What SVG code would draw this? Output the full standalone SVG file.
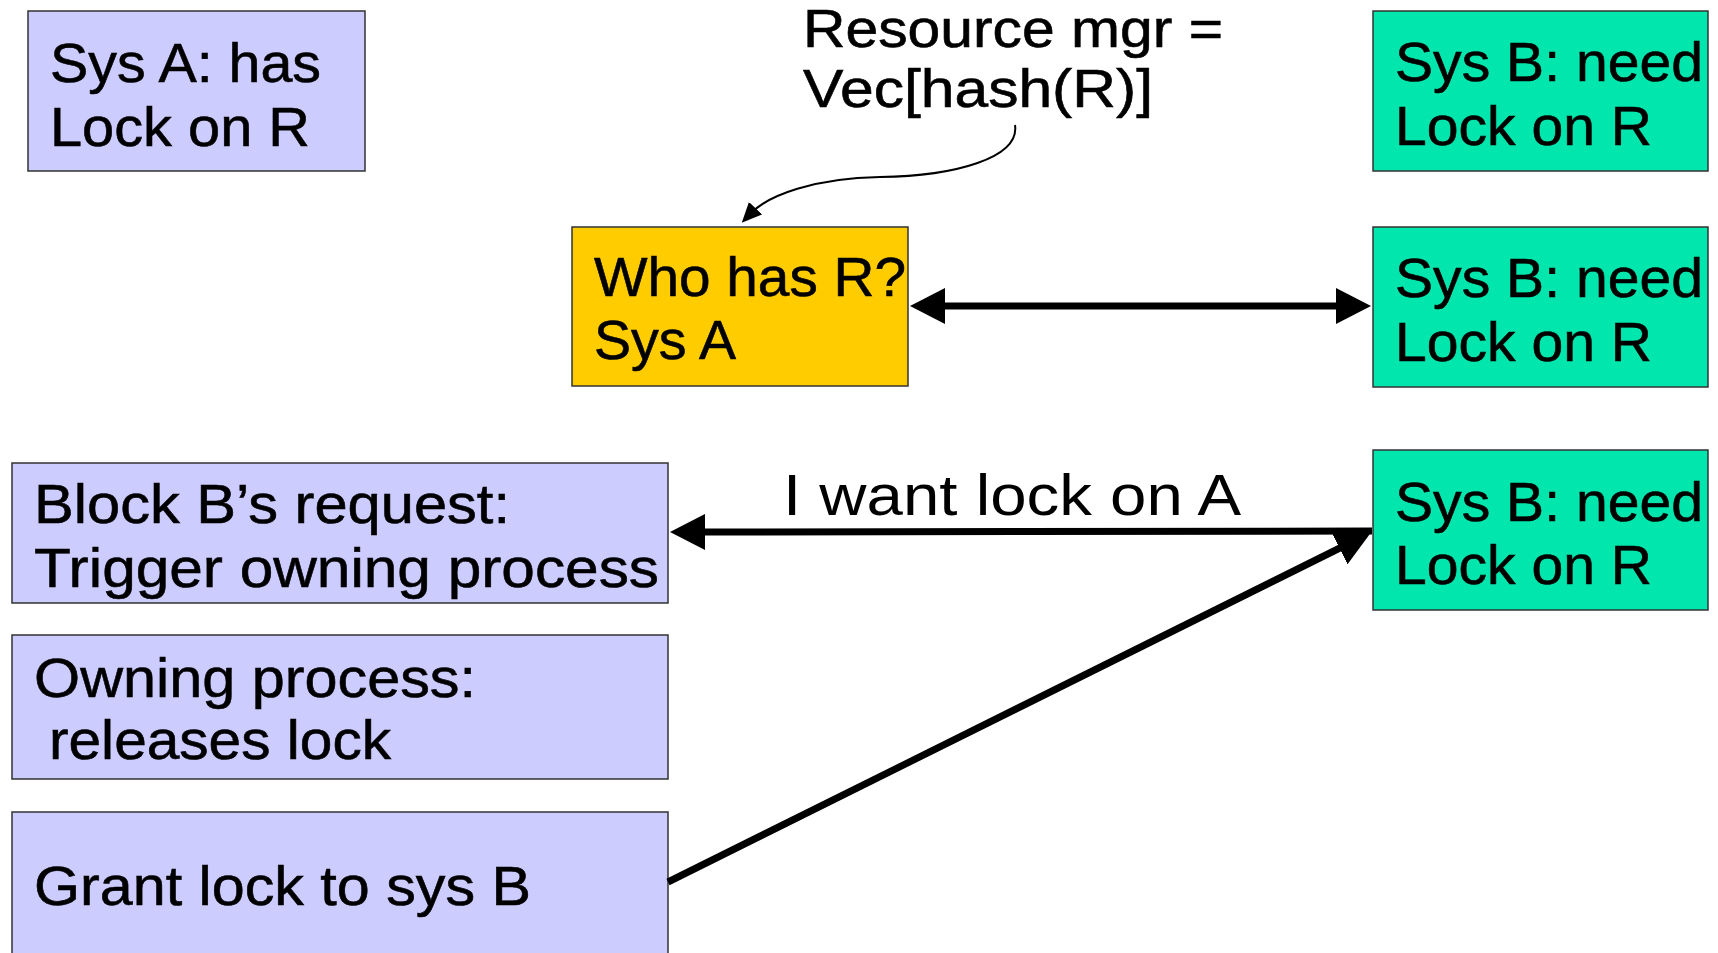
<svg xmlns="http://www.w3.org/2000/svg" width="1718" height="953" viewBox="0 0 1718 953">
  <style>
    .box { stroke: #333333; stroke-width: 1.5; }
    .lav { fill: #ccccff; }
    .grn { fill: #00e6ac; }
    .yel { fill: #ffcc00; }
    text { font-family: "Liberation Sans", Arial, sans-serif; font-size: 56px; fill: #000000; stroke: #000000; stroke-width: 0.6; }
    .lbl { font-size: 58px; stroke-width: 0; }
    .note { font-size: 53px; }
    .thick { stroke: #000000; stroke-width: 7; fill: none; }
    .thin { stroke: #000000; stroke-width: 2; fill: none; }
  </style>
  <defs>
    <marker id="bigHead" markerUnits="userSpaceOnUse" viewBox="0 0 35 36" markerWidth="35" markerHeight="36" refX="14" refY="18" orient="auto-start-reverse">
      <path d="M0,0 L35,18 L0,36 z" fill="#000000"/>
    </marker>
    <marker id="smallHead" markerUnits="userSpaceOnUse" viewBox="0 0 20 18" markerWidth="20" markerHeight="18" refX="8" refY="9" orient="auto">
      <path d="M0,0 L20,9 L0,18 z" fill="#000000"/>
    </marker>
  </defs>

  <rect width="1718" height="953" fill="#ffffff"/>

  <g id="sysA">
    <rect class="box lav" x="28" y="11" width="337" height="160"/>
    <text x="50" y="82" textLength="271" lengthAdjust="spacingAndGlyphs">Sys A: has</text>
    <text x="50" y="146" textLength="260" lengthAdjust="spacingAndGlyphs">Lock on R</text>
  </g>

  <g id="resourceMgr">
    <text class="note" x="803" y="47" textLength="420" lengthAdjust="spacingAndGlyphs">Resource mgr =</text>
    <text class="note" x="803" y="107" textLength="350" lengthAdjust="spacingAndGlyphs">Vec[hash(R)]</text>
  </g>

  <g id="lookup">
    <rect class="box yel" x="572" y="227" width="336" height="159"/>
    <text x="594" y="296" textLength="312" lengthAdjust="spacingAndGlyphs">Who has R?</text>
    <text x="594" y="359" textLength="142" lengthAdjust="spacingAndGlyphs">Sys A</text>
  </g>

  <g id="sysB1">
    <rect class="box grn" x="1373" y="11" width="335" height="160"/>
    <text x="1395" y="81" textLength="308" lengthAdjust="spacingAndGlyphs">Sys B: need</text>
    <text x="1395" y="145" textLength="257" lengthAdjust="spacingAndGlyphs">Lock on R</text>
  </g>

  <g id="sysB2">
    <rect class="box grn" x="1373" y="227" width="335" height="160"/>
    <text x="1395" y="297" textLength="308" lengthAdjust="spacingAndGlyphs">Sys B: need</text>
    <text x="1395" y="361" textLength="257" lengthAdjust="spacingAndGlyphs">Lock on R</text>
  </g>

  <g id="sysB3">
    <rect class="box grn" x="1373" y="450" width="335" height="160"/>
    <text x="1395" y="521" textLength="308" lengthAdjust="spacingAndGlyphs">Sys B: need</text>
    <text x="1395" y="584" textLength="257" lengthAdjust="spacingAndGlyphs">Lock on R</text>
  </g>

  <g id="blockRequest">
    <rect class="box lav" x="12" y="463" width="656" height="140"/>
    <text x="34" y="523" textLength="476" lengthAdjust="spacingAndGlyphs">Block B’s request:</text>
    <text x="34" y="587" textLength="625" lengthAdjust="spacingAndGlyphs">Trigger owning process</text>
  </g>

  <g id="releaseLock">
    <rect class="box lav" x="12" y="635" width="656" height="144"/>
    <text x="34" y="697" textLength="442" lengthAdjust="spacingAndGlyphs">Owning process:</text>
    <text x="49" y="759" textLength="342" lengthAdjust="spacingAndGlyphs">releases lock</text>
  </g>

  <g id="grantLock">
    <rect class="box lav" x="12" y="812" width="656" height="160"/>
    <text x="34" y="905" textLength="497" lengthAdjust="spacingAndGlyphs">Grant lock to sys B</text>
  </g>

  <g id="connectors">
    <!-- resource manager points at the lookup entry -->
    <path class="thin" d="M1015,125 C1020,158 955,176 880,177 C815,178 768,195 750,214" marker-end="url(#smallHead)"/>
    <!-- query / reply between lookup and Sys B -->
    <line class="thick" x1="931" y1="306" x2="1350" y2="306" marker-start="url(#bigHead)" marker-end="url(#bigHead)"/>
    <!-- lock request -->
    <line class="thick" x1="1372" y1="531" x2="691" y2="532" marker-end="url(#bigHead)"/>
    <text class="lbl" x="783" y="515" textLength="458" lengthAdjust="spacingAndGlyphs">I want lock on A</text>
    <!-- grant -->
    <line class="thick" x1="668" y1="882" x2="1352" y2="542" marker-end="url(#bigHead)"/>
  </g>
</svg>
